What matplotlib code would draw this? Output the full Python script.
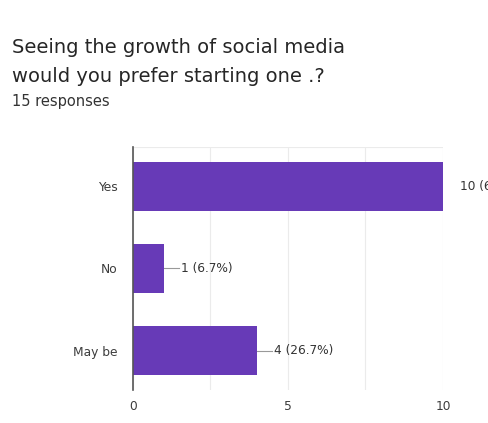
import matplotlib
matplotlib.use('Agg')
from matplotlib import pyplot as plt

categories = ['Yes', 'No', 'May be']
counts = [10, 1, 4]
percents = [66.7, 6.7, 26.7]
total_responses = 15

title_lines = ['Seeing the growth of social media',
               'would you prefer starting one .?']
bar_color = '#673ab7'


def main():
  plt.rcParams['font.family'] = ['DejaVu Sans']
  fig = plt.figure(figsize=(4.88, 4.23), dpi=100)
  H = 423.0
  ax = fig.add_axes([0.2725, 0.078, 0.6353, 0.575])

  ypos = list(range(len(categories)))
  ax.barh(ypos, counts, height=0.6, color=bar_color, zorder=3)

  ax.set_xlim(0, 10)
  ax.set_ylim(len(categories) - 0.52, -0.48)
  ax.set_xticks([0, 5, 10])
  ax.set_xticks([2.5, 7.5], minor=True)
  ax.set_yticks(ypos)
  ax.set_yticklabels(categories)
  ax.tick_params(axis='both', which='both', length=0, labelsize=8.8, colors='#3c3c3c')
  ax.tick_params(axis='x', pad=7)
  ax.tick_params(axis='y', pad=11)
  ax.grid(axis='x', which='both', color='#ebebeb', linewidth=0.8, zorder=0)
  for side in ['top', 'right', 'bottom']:
    ax.spines[side].set_visible(False)
  ax.spines['left'].set_color('#555555')
  ax.spines['left'].set_linewidth(1.2)
  ax.spines['left'].set_zorder(4)
  ax.axhline(-0.48, color='#ebebeb', linewidth=0.8, zorder=0)

  # value labels, with a short leader line for bars that end inside the axes
  xmax = ax.get_xlim()[1]
  for y, c, p in zip(ypos, counts, percents):
    label = '%d (%.1f%%)' % (c, p)
    if c < xmax:
      ax.plot([c, c + 0.5], [y, y], color='#999999', linewidth=0.8,
              clip_on=False, zorder=2)
    ax.annotate(label, xy=(c, y), xytext=(12, 0), textcoords='offset points',
                va='center', ha='left', fontsize=8.7, color='#333333',
                annotation_clip=False)

  fig.text(12 / 488, 1 - 53 / H, title_lines[0], fontsize=14,
           color='#262626', va='baseline', ha='left')
  fig.text(12 / 488, 1 - 82 / H, title_lines[1], fontsize=14,
           color='#262626', va='baseline', ha='left')
  fig.text(12 / 488, 1 - 106 / H, '%d responses' % total_responses,
           fontsize=10.5, color='#333333', va='baseline', ha='left')

  fig.savefig('out.png', dpi=100)
  plt.close(fig)


if __name__ == '__main__':
  main()
